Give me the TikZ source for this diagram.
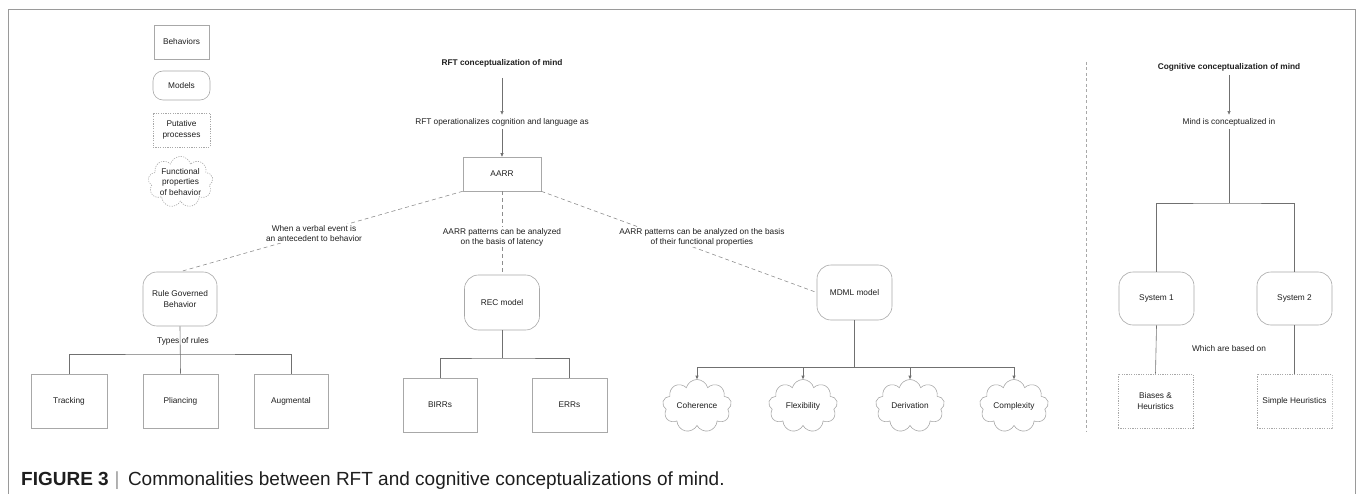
\documentclass[tikz,border=0pt]{standalone}
\usepackage{fontspec}
\setmainfont{Liberation Sans}
\usetikzlibrary{shapes.symbols,arrows.meta}
\definecolor{boxgray}{HTML}{A8A8A8}
\definecolor{linegray}{HTML}{707070}
\definecolor{txt}{HTML}{1E1E1E}
\definecolor{framegray}{HTML}{9A9A9A}
\newcommand{\dfont}{\fontsize{8.3}{10.5}\selectfont}
\tikzset{
  every node/.style={text=txt, font=\dfont, align=center},
  sqbox/.style={draw=boxgray, line width=0.6pt, inner sep=0pt},
  rbox/.style={sqbox, rounded corners=14pt},
  pbox/.style={sqbox, dash pattern=on 1.2pt off 1.2pt},
  cloudbox/.style={cloud, cloud puffs=9, cloud ignores aspect, draw=boxgray, line width=0.6pt, inner sep=0pt, minimum width=69pt, minimum height=53pt},
  conn/.style={draw=linegray, line width=0.6pt},
  arr/.style={conn, -{Triangle[length=3.5pt,width=3pt]}},
  dconn/.style={draw=linegray!80, line width=0.6pt, dash pattern=on 4pt off 3pt},
  lbl/.style={fill=white, inner sep=1pt},
  ttl/.style={font=\dfont\bfseries},
}
\begin{document}
\begin{tikzpicture}[x=1pt,y=-1pt]
\useasboundingbox (0,0) rectangle (1356,494);
% frame
\draw[framegray, line width=0.7pt] (8,494) -- (8,9) -- (1355,9) -- (1355,494);

% legend
\node[sqbox, minimum width=55pt, minimum height=34pt] (behL) at (181.5,42) {Behaviors};
\node[rbox, rounded corners=10pt, minimum width=57pt, minimum height=29pt] (modL) at (181.5,85.5) {Models};
\node[pbox, minimum width=57pt, minimum height=34pt] (putL) at (181.5,130) {Putative\\processes};
\node[cloudbox, dash pattern=on 1.2pt off 1.2pt, minimum width=65pt, minimum height=42pt] (funL) at (180.5,182) {Functional\\properties\\of behavior};

% RFT side
\node[ttl] (t1) at (502,63) {RFT conceptualization of mind};
\node (op1) at (502,122) {RFT operationalizes cognition and language as};
\node[sqbox, minimum width=78pt, minimum height=34pt] (aarr) at (502,174) {AARR};
\draw[arr] (502,78) -- (op1.north);
\draw[arr] (op1.south) -- (aarr.north);

\node[rbox, minimum width=74pt, minimum height=54pt] (rgb) at (180,299) {Rule Governed\\Behavior};
\node[rbox, minimum width=75pt, minimum height=55pt] (rec) at (502,302.5) {REC model};
\node[rbox, minimum width=75pt, minimum height=55pt] (mdml) at (854.5,292.5) {MDML model};

\draw[dconn] (aarr.south west) -- node[lbl, pos=0.526] {When a verbal event is\\an antecedent to behavior} (rgb.north);
\draw[dconn] (aarr.south) -- node[lbl, pos=0.55] {AARR patterns can be analyzed\\on the basis of latency} (rec.north);
\draw[dconn] (aarr.south east) -- node[lbl, pos=0.583, yshift=13pt] {AARR patterns can be analyzed on the basis\\of their functional properties} (mdml.west);

% rules
\node[sqbox, minimum width=76pt, minimum height=54pt] (trk) at (69,401) {Tracking};
\node[sqbox, minimum width=75pt, minimum height=54pt] (pli) at (180.5,401) {Pliancing};
\node[sqbox, minimum width=74pt, minimum height=54pt] (aug) at (291,401) {Augmental};
\coordinate (rbar) at (180,354);
\draw[conn] (rgb.south) -- (pli.north);
\draw[conn] (trk.north) |- (rbar) -| (aug.north);
\node at (183,341) {Types of rules};

% REC
\node[sqbox, minimum width=74pt, minimum height=54pt] (bir) at (440,405) {BIRRs};
\node[sqbox, minimum width=75pt, minimum height=54pt] (err) at (569.5,405) {ERRs};
\coordinate (cbar) at (502,358);
\draw[conn] (rec.south) -- (cbar);
\draw[conn] (bir.north) |- (cbar) -| (err.north);

% MDML
\node[cloudbox] (coh) at (697,406) {Coherence};
\node[cloudbox] (flx) at (803,406) {Flexibility};
\node[cloudbox] (der) at (910,406) {Derivation};
\node[cloudbox] (cpx) at (1014,406) {Complexity};
\coordinate (mbar) at (854.5,367);
\draw[conn] (mdml.south) -- (mbar);
\draw[arr] (mbar) -| (coh.north);
\draw[arr] (mbar) -| (cpx.north);
\draw[arr] (flx.north |- mbar) -- (flx.north);
\draw[arr] (der.north |- mbar) -- (der.north);

% separator
\draw[draw=boxgray, line width=0.6pt, dash pattern=on 3pt off 2.5pt] (1086,62) -- (1086,432);

% cognitive side
\node[ttl] (t2) at (1229,67) {Cognitive conceptualization of mind};
\node (mind) at (1229,122) {Mind is conceptualized in};
\draw[arr] (1229,75) -- (mind.north);
\node[rbox, minimum width=75pt, minimum height=53pt] (s1) at (1156.5,298.5) {System 1};
\node[pbox, minimum width=75pt, minimum height=54pt] (bia) at (1155.5,401) {Biases \&\\Heuristics};
\begin{scope}
\clip (0,0) rectangle (1332.5,494);
\node[rbox, minimum width=75pt, minimum height=53pt] (s2) at (1294.5,298.5) {System 2};
\node[pbox, minimum width=75pt, minimum height=54pt] (sim) at (1294.5,401) {Simple Heuristics};
\end{scope}
\coordinate (sbar) at (1229,203);
\draw[conn] (mind.south) -- (sbar);
\draw[conn] (s1.north) |- (sbar) -| (s2.north);
\draw[conn] (s1.south) -- (bia.north);
\draw[conn] (s2.south) -- (sim.north);
\node at (1229,349) {Which are based on};

% caption
\node[anchor=base west, inner sep=0pt, font=\fontsize{19}{22}\selectfont] (cap) at (21,485)
  {\textbf{FIGURE 3}\hspace{0.3em}{\color{framegray}|}\hspace{0.45em}Commonalities between RFT and cognitive conceptualizations of mind.};
\end{tikzpicture}
\end{document}
